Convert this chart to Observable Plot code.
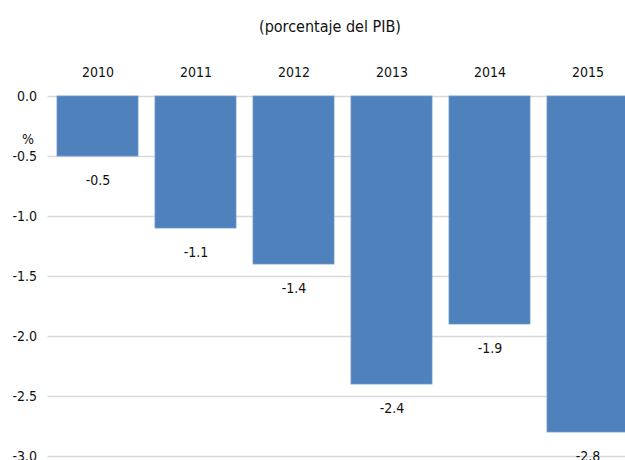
<!DOCTYPE html>
<html>
<head>
<meta charset="utf-8">
<script src="https://cdn.jsdelivr.net/npm/d3@7"></script>
<script src="https://cdn.jsdelivr.net/npm/@observablehq/plot@0.6"></script>
<style>
  html, body { margin: 0; padding: 0; overflow: hidden; background: #fff; width: 625px; height: 460px; }
  #title { height: 48px; width: 625px; box-sizing: border-box; padding-left: 35px; text-align: center;
    font-family: "Liberation Sans Narrow", "DejaVu Sans Condensed", sans-serif; font-size: 16px; line-height: 54px; color: #111; }
  #chart svg { overflow: hidden; }
</style>
</head>
<body>
<div id="title">(porcentaje del PIB)</div>
<div id="chart"></div>
<script>
const years = ["2010", "2011", "2012", "2013", "2014", "2015"];
const values = [-0.5, -1.1, -1.4, -2.4, -1.9, -2.8];
const yTicks = [0, -0.5, -1.0, -1.5, -2.0, -2.5, -3.0];
const unitLabel = "%";

const data = years.map((y, i) => ({year: y, value: values[i]}));
const font = '"Liberation Sans Narrow", "DejaVu Sans Condensed", sans-serif';

const chart = Plot.plot({
  width: 625,
  height: 412,
  marginTop: 48,
  marginBottom: 4,
  marginLeft: 47.5,
  marginRight: 0,
  style: {fontFamily: font, fontSize: "14px", color: "#111", background: "white", overflow: "hidden"},
  x: {type: "band", domain: years, range: [47.5, 637.5], paddingInner: 0.175, paddingOuter: 0.0875, axis: null},
  y: {domain: [-3, 0], axis: null},
  marks: [
    Plot.gridY(yTicks, {stroke: "#d9d9d9", strokeOpacity: 1, strokeWidth: 1.5}),
    Plot.barY(data, {x: "year", y: "value", fill: "#4f81bd", stroke: "#6f98c8", strokeWidth: 0.8}),
    Plot.axisX({anchor: "top", tickSize: 0, tickPadding: 20, label: null, fontSize: 14}),
    Plot.axisY(yTicks, {anchor: "left", tickSize: 0, tickPadding: 11, label: null, tickFormat: d => d.toFixed(1), fontSize: 14}),
    Plot.text(data, {x: "year", y: "value", text: d => d.value.toFixed(1), dy: 24, fontSize: 14, fill: "#111"}),
    Plot.text([unitLabel], {frameAnchor: "left", y: () => -0.36, dx: -20, textAnchor: "middle", fontSize: 14, fill: "#111"})
  ]
});
document.getElementById("chart").appendChild(chart);
</script>
</body>
</html>
